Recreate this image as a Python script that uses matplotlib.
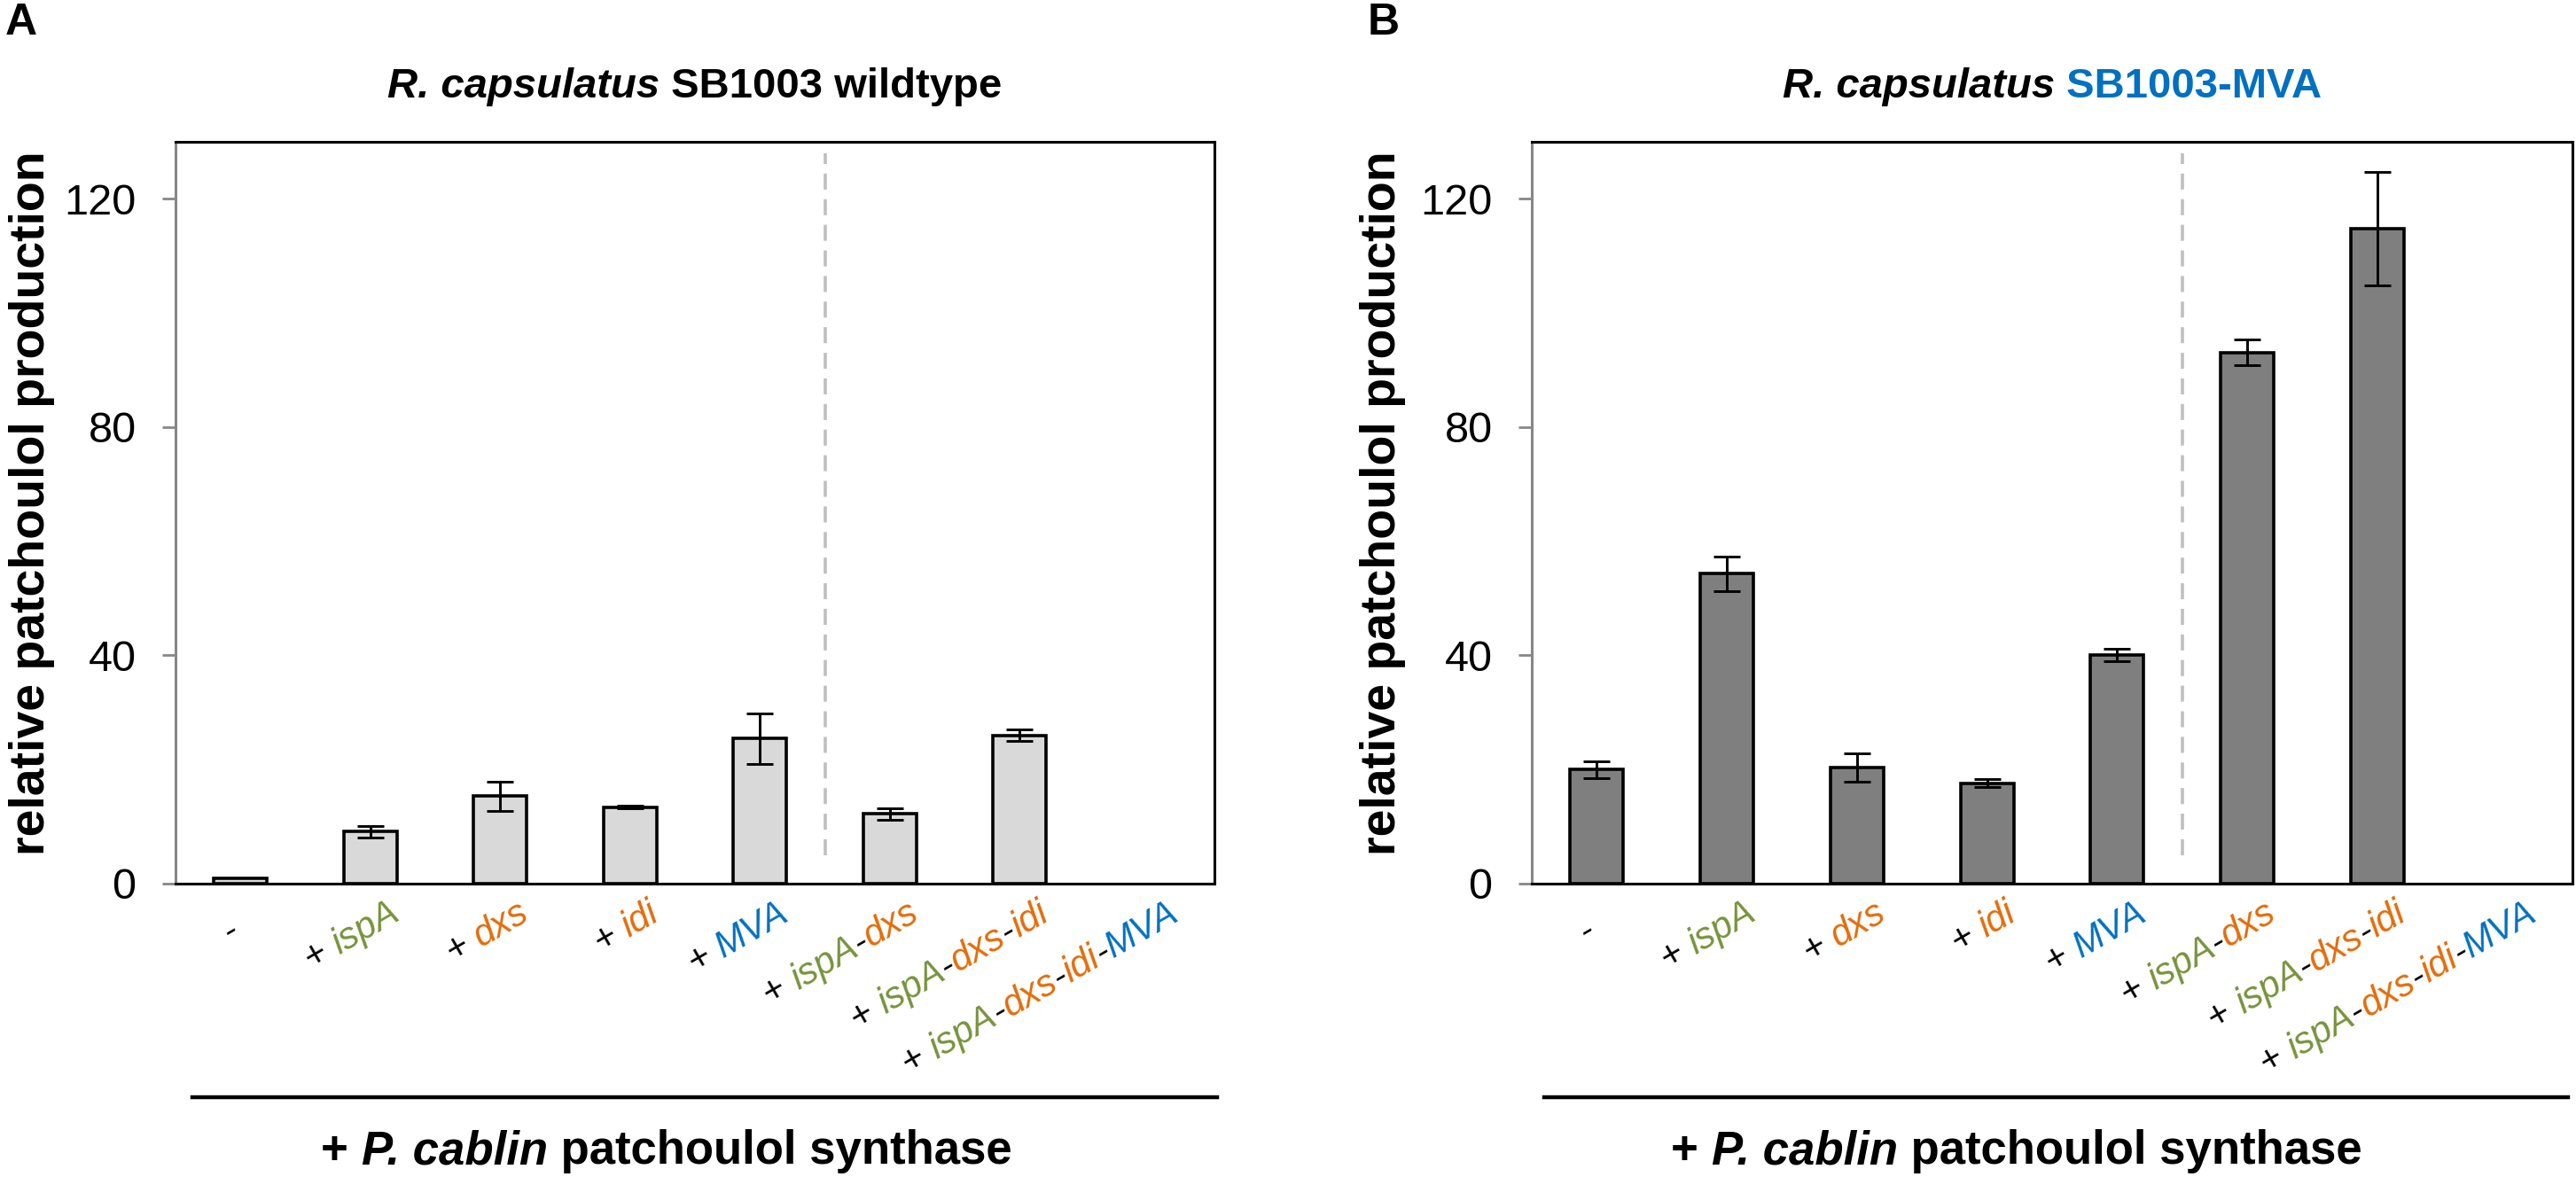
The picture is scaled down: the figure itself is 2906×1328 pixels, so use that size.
import re
import numpy as np
import matplotlib
matplotlib.use('Agg')
import matplotlib.pyplot as plt
from matplotlib import font_manager
from matplotlib.transforms import IdentityTransform
from matplotlib.lines import Line2D

# the original uses a condensed Arial; use Liberation Sans Narrow when it is there
try:
    font_manager.findfont(font_manager.FontProperties(family='Liberation Sans Narrow'),
                          fallback_to_default=False)
    plt.rcParams['font.family'] = ['Liberation Sans Narrow', 'DejaVu Sans']
    K = 1 / 0.82
except ValueError:
    plt.rcParams['font.family'] = ['Liberation Sans', 'DejaVu Sans']
    K = 1.0

# data
categories = ['-', '+ ispA', '+ dxs', '+ idi', '+ MVA',
              '+ ispA-dxs', '+ ispA-dxs-idi', '+ ispA-dxs-idi-MVA']
wildtype_mean = [1.0, 9.1, 15.3, 13.4, 25.4, 12.2, 26.0, np.nan]
wildtype_err = [0.0, 1.0, 2.5, 0.2, 4.4, 1.0, 1.0, np.nan]
mva_mean = [20.0, 54.3, 20.3, 17.6, 40.1, 93.1, 114.8, np.nan]
mva_err = [1.5, 3.0, 2.5, 0.7, 1.1, 2.3, 9.9, np.nan]
yticks = [0, 40, 80, 120]

GREEN = '#77933C'
ORANGE = '#E46C0A'
BLUE = '#0070C0'
GRAY_AX = '#878787'
gene_colors = {'ispA': GREEN, 'dxs': ORANGE, 'idi': ORANGE, 'MVA': BLUE}

W, H = 2906, 1328
fig = plt.figure(figsize=(W / 100, H / 100), dpi=100)
renderer = fig.canvas.get_renderer()


def px_axes(left, top, right, bottom):
    return fig.add_axes([left / W, 1 - bottom / H, (right - left) / W, (bottom - top) / H])


def text_advance(s, **kw):
    t = fig.text(0, 0, s + '|', **kw)
    w = t.get_window_extent(renderer).width
    t.set_text('|')
    w -= t.get_window_extent(renderer).width
    t.remove()
    return w


def rich_text(x, y, parts, angle=0, align='left', size=30, weight='normal'):
    # parts: (text, color, style); (x, y) is the baseline anchor in pixels
    adv = [text_advance(s, fontsize=size, fontstyle=st, fontweight=weight) for s, c, st in parts]
    total = sum(adv)
    shift = {'left': 0, 'center': total / 2, 'right': total}[align]
    a = np.deg2rad(angle)
    d = np.array([np.cos(a), np.sin(a)])
    pos = np.array([x, y], dtype=float) - shift * d
    for (s, c, st), w in zip(parts, adv):
        fig.text(pos[0], pos[1], s, color=c, fontsize=size, fontstyle=st,
                 fontweight=weight, rotation=angle, rotation_mode='anchor',
                 ha='left', va='baseline', transform=IdentityTransform())
        pos = pos + w * d


def label_parts(label):
    toks = [t for t in re.split(r'(\+ |-)', label) if t]
    return [(t, gene_colors.get(t, 'black'), 'italic') for t in toks]


def draw_panel(ax, means, errs, fill, title_parts):
    x = np.arange(len(categories))
    means = np.array(means)
    errs = np.array(errs)
    ax.bar(x, means, width=0.41, color=fill, edgecolor='black', linewidth=2.6, zorder=2)
    m = np.nan_to_num(errs) > 0
    ax.errorbar(x[m], means[m], yerr=errs[m], fmt='none', ecolor='black',
                elinewidth=2.1, capsize=11, capthick=2.1, zorder=3)
    ax.plot([4.5, 4.5], [5, 128], color='#BFBFBF', lw=2.6, ls=(0, (5, 3)), zorder=1)

    ax.set_xlim(-0.5, len(categories) - 0.5)
    ax.set_ylim(0, 130)
    ax.set_yticks(yticks)
    ax.set_xticks([])
    ax.tick_params(axis='y', direction='out', length=11, width=2, color=GRAY_AX,
                   labelsize=35 * K, pad=21)
    for side in ['top', 'right', 'bottom']:
        ax.spines[side].set_color('black')
        ax.spines[side].set_linewidth(2.2)
    ax.spines['left'].set_color(GRAY_AX)
    ax.spines['left'].set_linewidth(2.2)

    # rotated multi-coloured category labels
    for i, lab in enumerate(categories):
        xp, yp = ax.transData.transform((i, 0))
        back = 40 if lab == '-' else 0
        a = np.deg2rad(30)
        rich_text(xp + 35 - back * np.cos(a), yp - 40 - back * np.sin(a),
                  label_parts(lab), angle=30, align='right', size=30 * K)

    # title above the axes
    bb = ax.get_window_extent(renderer)
    rich_text((bb.x0 + bb.x1) / 2, H - 110, title_parts, align='center',
              size=34 * K, weight='bold')


axA = px_axes(198, 160, 1370, 997)
axB = px_axes(1728, 160, 2902, 997)

draw_panel(axA, wildtype_mean, wildtype_err, '#D9D9D9',
           [('R. capsulatus', 'black', 'italic'), (' SB1003 wildtype', 'black', 'normal')])
draw_panel(axB, mva_mean, mva_err, '#7F7F7F',
           [('R. capsulatus', 'black', 'italic'), (' SB1003-MVA', BLUE, 'normal')])

# y labels
for xc in [36, 1560]:
    fig.text(xc / W, 1 - 568 / H, 'relative patchoulol production', rotation=90,
             fontsize=40 * K, fontweight='bold', ha='center', va='center')

# panel letters
fig.text(6 / W, 1 - 3 / H, 'A', fontsize=36 * K, fontweight='bold', ha='left', va='top')
fig.text(1543 / W, 1 - 3 / H, 'B', fontsize=36 * K, fontweight='bold', ha='left', va='top')

# bottom bracket lines and annotation
synth = [('+ ', 'black', 'normal'), ('P. cablin', 'black', 'italic'),
         (' patchoulol synthase', 'black', 'normal')]
for x0, x1, xc in [(217, 1373, 752), (1742, 2897, 2275)]:
    fig.add_artist(Line2D([x0 / W, x1 / W], [1 - 1238 / H, 1 - 1238 / H],
                          transform=fig.transFigure, color='black', lw=3.2))
    rich_text(xc, H - 1313, synth, align='center', size=38 * K, weight='bold')

fig.savefig('out.png', dpi=100)
